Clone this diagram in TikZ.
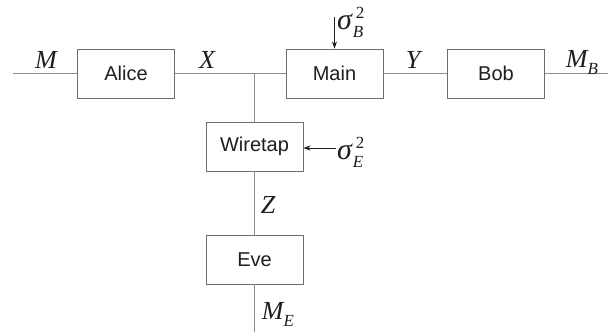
\documentclass[tikz,border=0pt]{standalone}
\usepackage{fontspec}
\setmainfont{Liberation Serif}
\newfontfamily\boxfont{Liberation Sans}
\usetikzlibrary{arrows.meta}
\definecolor{wire}{HTML}{8C8C8C}
\definecolor{frame}{HTML}{6E6E6E}
\definecolor{ink}{HTML}{1E1E1E}
% variable names in italic serif, with stacked sub/superscripts
\newcommand{\var}[1]{\fontsize{26}{28}\selectfont\itshape #1}
\newcommand{\subs}[1]{\raisebox{-7pt}{\fontsize{17}{17}\selectfont\itshape #1}}
\newcommand{\noise}[1]{\fontsize{30}{32}\selectfont\itshape σ\kern1pt\rlap{\kern3pt\raisebox{11pt}{\fontsize{17}{17}\selectfont\upshape 2}}\raisebox{-8pt}{\fontsize{17}{17}\selectfont\itshape #1}}
\begin{document}
\begin{tikzpicture}[x=1pt,y=-1pt,
  block/.style={draw=frame,line width=0.9pt,fill=white,minimum width=97pt,minimum height=49pt,
    inner sep=0pt,font=\boxfont\fontsize{20}{22}\selectfont,text=ink},
  wireline/.style={draw=wire,line width=1pt},
  varlabel/.style={inner sep=0pt,text=ink},
  feed/.style={draw=ink,line width=0.8pt,-{Stealth[length=7pt,width=5pt]}}]
\useasboundingbox (0,0) rectangle (613,332);
% blocks
\node[block] (alice) at (126,73.5) {Alice};
\node[block] (main) at (334.5,73.5) {Main};
\node[block] (bob) at (496,73.5) {Bob};
\node[block] (wiretap) at (254.5,146.5) {Wiretap};
\node[block] (eve) at (254.5,259.5) {Eve};
% free ends and the branch point
\coordinate (src) at (13,73.5);
\coordinate (sink) at (608,73.5);
\coordinate (tap) at (254.5,73.5);
\coordinate (evesink) at (254.5,332);
\coordinate (nB) at (334.5,17);
\coordinate (nE) at (336,148);
% signal wires
\draw[wireline] (src) -- (alice.west);
\draw[wireline] (alice.east) -- (main.west);
\draw[wireline] (main.east) -- (bob.west);
\draw[wireline] (bob.east) -- (sink);
\draw[wireline] (tap) -- (wiretap.north);
\draw[wireline] (wiretap.south) -- (eve.north);
\draw[wireline] (eve.south) -- (evesink);
% noise inputs
\draw[feed] (nB) -- (main.north);
\draw[feed] (nE) -- (wiretap.east |- nE);
% labels
\node[varlabel] (lM) at (46,60) {\var{M}};
\node[varlabel] (lX) at (207,60) {\var{X}};
\node[varlabel] (lY) at (413,60) {\var{Y}};
\node[varlabel] (lMB) at (582,63) {\var{M}\subs{B}};
\node[varlabel] (lZ) at (268,205) {\var{Z}};
\node[varlabel] (lME) at (278,314) {\var{M}\subs{E}};
\node[varlabel,anchor=west] (sB) at (337,22) {\noise{B}};
\node[varlabel,anchor=west] (sE) at (337,152) {\noise{E}};
\end{tikzpicture}
\end{document}
